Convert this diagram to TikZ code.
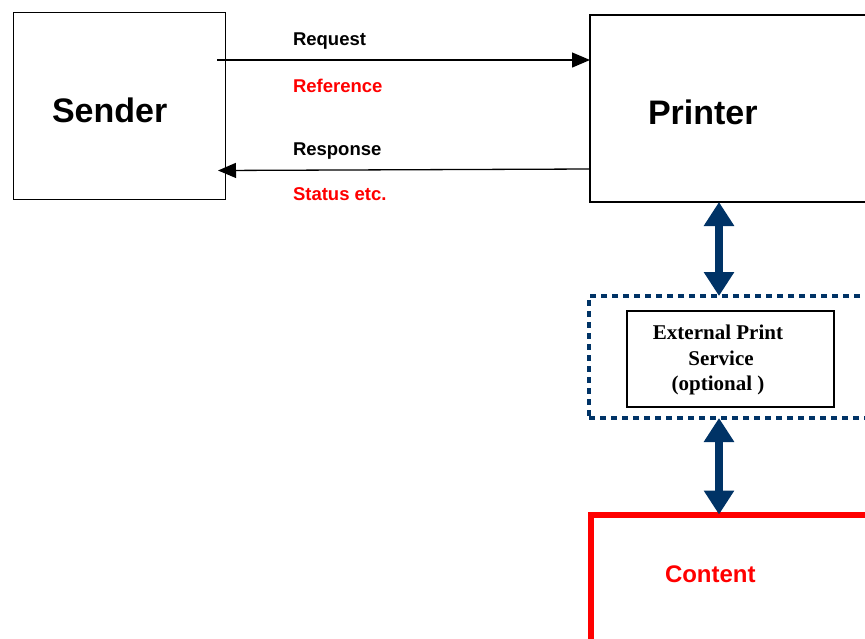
\documentclass[tikz,border=0pt]{standalone}
\usepackage{fontspec}
\setmainfont{Liberation Sans}
\newfontfamily\svcfont{Liberation Serif}
\usetikzlibrary{positioning, calc, arrows.meta}
\definecolor{svcnavy}{RGB}{0,51,102}
\tikzset{
  msg/.style={-{Triangle[length=18pt, width=15pt]}, draw=black, line width=1.3pt},
  biflow/.style={{Triangle[length=24pt, width=29pt]}-{Triangle[length=24pt, width=29pt]}, draw=svcnavy, line width=7.5pt},
  party/.style={draw=black, line width=1.3pt},
  dotbox/.style={draw=svcnavy, line width=4pt, dash pattern=on 6pt off 5pt},
  contentbox/.style={draw=red, line width=6pt},
  bigtext/.style={font=\fontsize{34}{40}\selectfont\bfseries},
  midtext/.style={font=\fontsize{24}{28}\selectfont\bfseries},
  msgtext/.style={font=\fontsize{18.5}{22}\selectfont\bfseries},
  svctext/.style={font=\svcfont\fontsize{21}{25.5}\selectfont\bfseries, align=center},
  every node/.style={inner sep=0, outer sep=0}
}
\begin{document}
\begin{tikzpicture}[x=1pt, y=-1pt]
    \useasboundingbox (0,0) rectangle (865,638);
    \clip (0,0) rectangle (865,638);
    \node[party, minimum width=212pt, minimum height=187pt] (sender) at (119.5,106) {};
    \node[bigtext, anchor=base west] (sendertext) at (52,122) {Sender};
    \node[party, minimum width=310pt, minimum height=187pt] (printer) at (745,108.5) {};
    \node[bigtext, anchor=base west] (printertext) at (648,124) {Printer};
    % request / response between sender and printer
    \coordinate (reqstart) at (217,60);
    \coordinate (resprow) at (0,169);
    \coordinate (respend) at (218,170.5);
    \draw[msg] (reqstart) -- (reqstart -| printer.west);
    \draw[msg] (printer.west |- resprow) -- (respend);
    \node[msgtext, anchor=base west] (reqlabel) at (293,45) {Request};
    \node[msgtext, anchor=base west, text=red] (reflabel) at (293,92.7) {Reference};
    \node[msgtext, anchor=base west] (resplabel) at (293,155) {Response};
    \node[msgtext, anchor=base west, text=red] (statlabel) at (293,200) {Status etc.};
    % optional print service
    \node[dotbox, minimum width=300pt, minimum height=122pt] (extsvc) at (739,357) {};
    \node[party, minimum width=207pt, minimum height=96pt] (service) at (730.5,359) {};
    \node[svctext] (servicetext) at (718,360) {External Print\\\hspace{6pt}Service\\(optional )};
    % content
    \node[contentbox, minimum width=300pt, minimum height=200pt] (content) at (740.5,614.5) {};
    \node[midtext, anchor=base west, text=red] (contenttext) at (665,582.7) {Content};
    \coordinate (bus) at (719,0);
    \draw[biflow] (bus |- printer.south) -- (bus |- extsvc.north);
    \draw[biflow] (bus |- extsvc.south) -- (bus |- content.north);
\end{tikzpicture}
\end{document}
